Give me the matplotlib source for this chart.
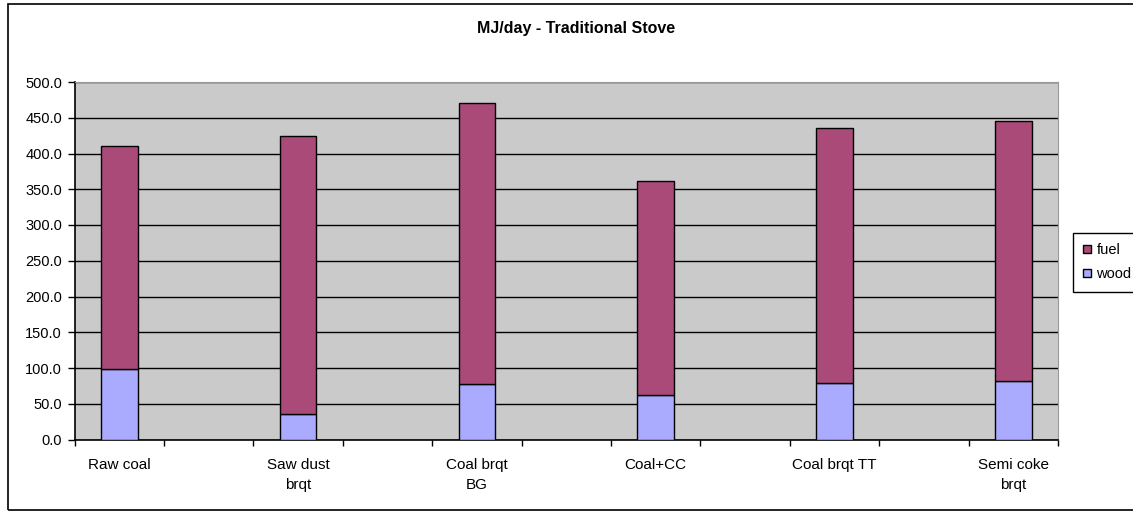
import matplotlib.pyplot as plt
from matplotlib.patches import Rectangle
import numpy as np

plt.rcParams['font.family'] = ['Liberation Sans', 'DejaVu Sans']

# Data (MJ/day)
categories = ['Raw coal', 'Saw dust\nbrqt', 'Coal brqt\nBG', 'Coal+CC', 'Coal brqt TT', 'Semi coke\nbrqt']
wood = [98.0, 35.0, 78.0, 62.5, 78.5, 82.0]
fuel = [312.0, 389.0, 393.0, 299.5, 357.5, 364.0]

fig = plt.figure(figsize=(11.33, 5.12), dpi=100)
ax = fig.add_axes([74.5 / 1133, 1 - 439.5 / 512, (1058 - 74.5) / 1133, (439.5 - 82) / 512])

# outer chart border
fig.patches.append(Rectangle((8 / 1133, 2 / 512), 1.2, 1 - 6 / 512, transform=fig.transFigure,
                             fill=False, edgecolor='black', linewidth=1.2))

# 11 slots on the category axis, bars in every other slot
x = np.arange(len(categories)) * 2
bw = 0.41
ax.bar(x, wood, bw, color='#AAAAFF', edgecolor='black', linewidth=1, label='wood', zorder=3)
ax.bar(x, fuel, bw, bottom=wood, color='#A94A78', edgecolor='black', linewidth=1, label='fuel', zorder=3)

ax.set_facecolor('#CACACA')
ax.set_xlim(-0.5, 10.5)
ax.set_ylim(0, 500)
yt = np.arange(0, 501, 50)
ax.set_yticks(yt)
ax.set_yticklabels([f'{v:.1f}' for v in yt], fontsize=10.5)
ax.yaxis.grid(True, color='black', linewidth=1, zorder=1)
ax.set_axisbelow(True)

ax.set_xticks(np.arange(-0.5, 11, 1))
ax.set_xticklabels([])
ax.set_xticks(x, minor=True)
ax.set_xticklabels(categories, minor=True, fontsize=11, linespacing=1.6, va='top')
ax.tick_params(axis='x', which='minor', length=0, pad=13)
ax.tick_params(axis='x', which='major', length=4.5, direction='out', width=1)
ax.tick_params(axis='y', length=5, direction='out', width=1, pad=4)

for s in ['top', 'right']:
    ax.spines[s].set_color('#999999')
for s in ['left', 'bottom']:
    ax.spines[s].set_color('black')
    ax.spines[s].set_linewidth(1.2)

fig.text(576 / 1133, 1 - 28.3 / 512, 'MJ/day - Traditional Stove', ha='center', va='center',
         fontsize=11.5, fontweight='bold')

handles, labels = ax.get_legend_handles_labels()
leg = fig.legend(handles[::-1], labels[::-1], loc='upper left',
                 bbox_to_anchor=(1073 / 1133, 1 - 233 / 512), fontsize=10.5,
                 frameon=True, fancybox=False, edgecolor='black', framealpha=1,
                 handlelength=0.5, handleheight=0.5, handletextpad=0.4,
                 borderpad=0.7, labelspacing=0.7, borderaxespad=0)
leg.get_frame().set_linewidth(1)

fig.savefig('out.png', dpi=100)
